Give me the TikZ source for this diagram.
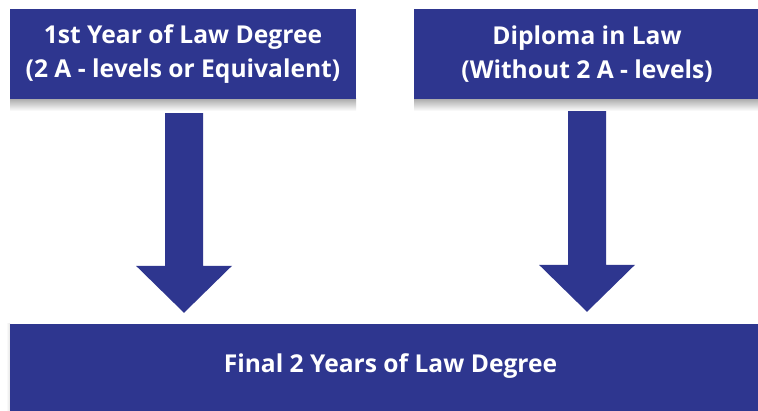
\documentclass[tikz,border=0pt]{standalone}
\usepackage{fontspec}
\setmainfont{Open Sans}
\usetikzlibrary{calc}
\definecolor{boxc}{HTML}{2E368F}
\tikzset{
  box/.style={fill=boxc, text=white, font=\bfseries\fontsize{24.6}{34}\selectfont,
    align=center, inner sep=0pt, minimum width=346pt, minimum height=90pt},
  shadowc/.style={top color=black!32, bottom color=white}
}
\newcommand\fatarrow[2]{%
  \fill[boxc] let \p1=(#1), \p2=(#2) in
  (\x1-19pt,\y1) -- (\x1+19pt,\y1) -- (\x1+19pt,\y2+47pt) -- (\x1+48pt,\y2+47pt)
  -- (\x1,\y2) -- (\x1-48pt,\y2+47pt) -- (\x1-19pt,\y2+47pt) -- cycle;}
\begin{document}
\begin{tikzpicture}[x=1pt,y=1pt]
\useasboundingbox (0,0) rectangle (758,411);
\clip (0,0) rectangle (758,411);
\fill[white] (0,0) rectangle (758,411);
% shadows
\shade[shadowc] (10,312) rectangle (356,300);
\shade[shadowc] (414,312) rectangle (760,300);
\shade[left color=white, right color=black!10] (6,0) rectangle (10,87);
% boxes
\node[box] (L) at (183,357) {1st Year of Law Degree\\(2 A - levels or Equivalent)};
\node[box] (R) at (587,357) {Diploma in Law\\(Without 2 A - levels)};
\node[box, minimum width=761pt, minimum height=100pt, text height=17.5pt, text depth=19.5pt]
  (B) at (390.5,37) {Final 2 Years of Law Degree};
% arrows
\coordinate (la1) at ($(L.south)+(1,-14)$);
\coordinate (la2) at ($(la1 |- B.north)+(0,11)$);
\coordinate (ra1) at ($(R.south)+(0,-12)$);
\coordinate (ra2) at ($(ra1 |- B.north)+(0,12)$);
\fatarrow{la1}{la2}
\fatarrow{ra1}{ra2}
\end{tikzpicture}
\end{document}
